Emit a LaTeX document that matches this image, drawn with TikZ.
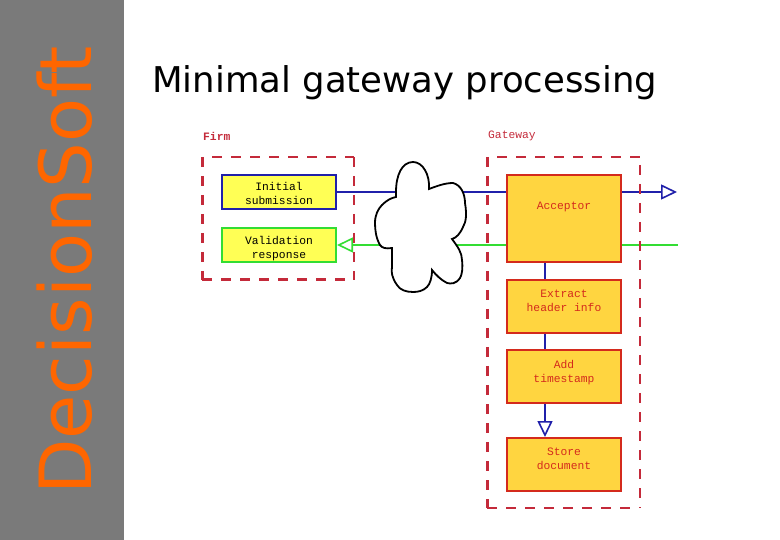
\documentclass[tikz,border=0pt]{standalone}
\usepackage{fontspec}
\setmainfont{DejaVu Sans}
\newfontfamily\diafont{Liberation Mono}
\usetikzlibrary{arrows.meta}
\definecolor{sidegray}{HTML}{7A7A7A}
\definecolor{brandorange}{HTML}{FF6600}
\definecolor{boxyellow}{HTML}{FFFF55}
\definecolor{boxorange}{HTML}{FFD540}
\definecolor{boxred}{HTML}{D42A1C}
\definecolor{dashred}{HTML}{C42A3A}
\definecolor{linenavy}{HTML}{2020AA}
\definecolor{linegreen}{HTML}{33DD33}
\tikzset{
  firmbox/.style={draw=#1,fill=boxyellow,line width=2pt,minimum width=114pt,minimum height=34pt,inner sep=0pt,align=center,text=black,font=\diafont\fontsize{11.3}{14}\selectfont},
  gatebox/.style={draw=boxred,fill=boxorange,line width=2pt,minimum width=114pt,inner sep=0pt,align=center,text=boxred,font=\diafont\fontsize{11.3}{14}\selectfont},
  arealabel/.style={anchor=west,inner sep=0pt,text=dashred,font=\diafont\fontsize{11.3}{14}\selectfont},
  bluewire/.style={draw=linenavy,line width=1.2pt},
  greenwire/.style={draw=linegreen,line width=2.4pt},
  stemwire/.style={draw=linenavy,line width=2pt},
  opentip/.style={-{Triangle[length=16pt,width=15pt,fill=white,line width=1.6pt]}},
  thickdash/.style={draw=dashred,line width=3pt,dash pattern=on 10pt off 9pt},
  thindash/.style={draw=dashred,line width=1.2pt,dash pattern=on 10pt off 9pt},
}
\begin{document}
\begin{tikzpicture}[x=1pt,y=-1pt]
\useasboundingbox (0,0) rectangle (780,540);
\fill[sidegray] (0,0) rectangle (124,540);
\node[rotate=90,inner sep=0pt,text=brandorange,font=\fontsize{72}{72}\selectfont] (brand) at (65,270.5) {DecisionSoft};
\node[anchor=base west,inner sep=0pt,text=black,font=\fontsize{35.5}{36}\selectfont] (title) at (152,93) {Minimal gateway processing};
\node[arealabel,font=\diafont\bfseries\fontsize{11.3}{14}\selectfont] (firmlabel) at (203,136) {Firm};
\node[arealabel] (gatelabel) at (488,136) {Gateway};
\node[firmbox=linenavy] (init) at (279,192) {\rule{0pt}{12pt}Initial\\submission};
\node[firmbox=linegreen] (valid) at (279,245) {\rule{0pt}{15pt}Validation\\response};
\node[gatebox,minimum height=87pt] (acc) at (564,218.5) {Acceptor\\[11pt]\mbox{}};
\node[gatebox,minimum height=53pt] (extract) at (564,306.5) {Extract\\header info\\[-2pt]\mbox{}};
\node[gatebox,minimum height=53pt] (add) at (564,376.5) {Add\\timestamp\\[-3pt]\mbox{}};
\node[gatebox,minimum height=53pt] (store) at (564,464.5) {Store\\document\\[-2pt]\mbox{}};
\coordinate (blueout) at (677,192);
\coordinate (greenin) at (678,245);
\draw[bluewire] (init.east) -- (init.east -| acc.west);
\draw[bluewire,opentip] (acc.east |- init.east) -- (blueout);
\draw[greenwire] (greenin) -- (greenin -| acc.east);
\draw[greenwire,opentip] (greenin -| acc.west) -- (valid.east);
\draw[stemwire] (acc.south -| 545,0) -- (extract.north -| 545,0);
\draw[stemwire] (extract.south -| 545,0) -- (add.north -| 545,0);
\draw[stemwire,opentip] (add.south -| 545,0) -- (store.north -| 545,0);
\draw[fill=white,draw=black,line width=1.8pt]
  (396,192) .. controls (396,175) and (402,162) .. (413,162)
  .. controls (423,162) and (430,175) .. (429,189)
  .. controls (437,186) and (445,183) .. (453,183)
  .. controls (461,185) and (465,194) .. (465,203)
  .. controls (467,215) and (466,222) .. (463,227)
  .. controls (460,234) and (456,238) .. (452,239)
  .. controls (458,247) and (462,253) .. (462,260)
  .. controls (463,268) and (462,275) .. (460,278)
  .. controls (456,284) and (451,284) .. (447,283)
  .. controls (441,280) and (436,275) .. (432,270)
  .. controls (432,278) and (430,284) .. (427,287)
  .. controls (423,291) and (418,292) .. (413,292)
  .. controls (406,292) and (400,290) .. (397,285)
  .. controls (392,278) and (391,272) .. (392,267)
  .. controls (392,260) and (392,254) .. (392,248)
  .. controls (386,249) and (382,248) .. (380,245)
  .. controls (376,238) and (375,230) .. (375,223)
  .. controls (375,215) and (378,209) .. (382,205)
  .. controls (387,200) and (391,198) .. (396,197)
  -- cycle;
\draw[thickdash] (202,157) -- (202,280);
\draw[thickdash] (202,280) -- (354,280);
\draw[thindash] (212,157) -- (354,157);
\draw[thindash] (354,157) -- (354,280);
\draw[thickdash] (487,157) -- (487,508);
\draw[thindash] (497,157) -- (640,157);
\draw[thickdash,line width=2pt] (640,165) -- (640,508);
\draw[thindash] (487,508) -- (632,508);
\end{tikzpicture}
\end{document}
